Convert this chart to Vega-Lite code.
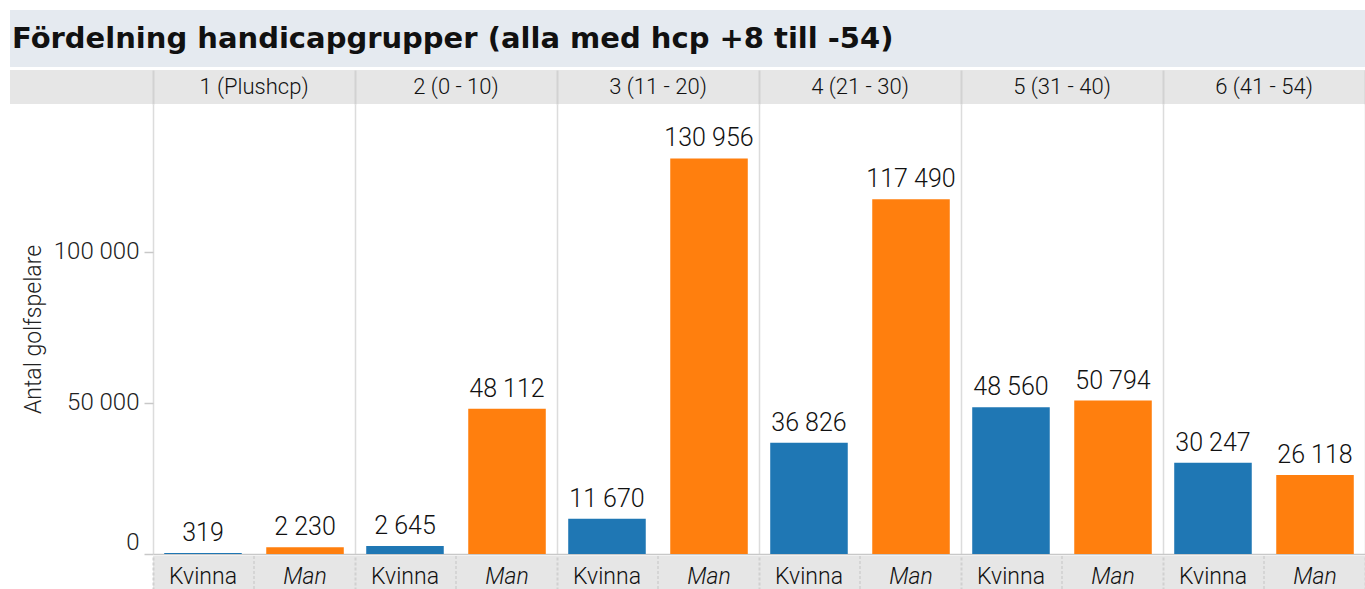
{
  "$schema": "https://vega.github.io/schema/vega-lite/v6.json",
  "padding": {"left": 10, "top": 10, "right": 0, "bottom": 0},
  "background": "white",
  "config": {
    "locale": {"number": {"decimal": ",", "thousands": " ", "grouping": [3], "currency": ["", " kr"]}},
    "font": "Roboto",
    "view": {"stroke": null}
  },
  "datasets": {
    "players": [
      {"group": "1 (Plushcp)", "gender": "Kvinna", "count": 319},
      {"group": "1 (Plushcp)", "gender": "Man", "count": 2230},
      {"group": "2 (0 - 10)", "gender": "Kvinna", "count": 2645},
      {"group": "2 (0 - 10)", "gender": "Man", "count": 48112},
      {"group": "3 (11 - 20)", "gender": "Kvinna", "count": 11670},
      {"group": "3 (11 - 20)", "gender": "Man", "count": 130956},
      {"group": "4 (21 - 30)", "gender": "Kvinna", "count": 36826},
      {"group": "4 (21 - 30)", "gender": "Man", "count": 117490},
      {"group": "5 (31 - 40)", "gender": "Kvinna", "count": 48560},
      {"group": "5 (31 - 40)", "gender": "Man", "count": 50794},
      {"group": "6 (41 - 54)", "gender": "Kvinna", "count": 30247},
      {"group": "6 (41 - 54)", "gender": "Man", "count": 26118}
    ]
  },
  "data": {"name": "players"},
  "spacing": 3,
  "vconcat": [
    {
      "width": 1355,
      "height": 57,
      "view": {"fill": "#e5eaf0", "stroke": null},
      "title": {
        "text": "Fördelning handicapgrupper (alla med hcp +8 till -54)",
        "anchor": "start",
        "frame": "group",
        "orient": "top",
        "offset": -44,
        "dx": 2,
        "fontSize": 29,
        "fontWeight": "bold",
        "font": "DejaVu Sans",
        "color": "#111111"
      },
      "transform": [{"aggregate": [{"op": "count", "as": "n"}]}],
      "mark": {"type": "rect", "color": "#e5eaf0"},
      "encoding": {}
    },
    {
      "spacing": 0,
      "vconcat": [
        {
          "width": 1355,
          "height": 34,
          "view": {"fill": "#e6e6e6", "stroke": null},
          "transform": [{"aggregate": [{"op": "count", "as": "n"}], "groupby": ["group"]}],
          "mark": {"type": "text", "fontSize": 22, "fontWeight": 300, "color": "#111111", "baseline": "middle"},
          "encoding": {
            "x": {
              "field": "group", "type": "nominal",
              "scale": {"type": "band", "range": [143, 1355], "paddingInner": 0, "paddingOuter": 0},
              "axis": {"title": null, "labels": false, "ticks": false, "domain": false, "grid": true, "tickBand": "extent", "gridColor": "#d2d2d2", "gridWidth": 2}
            },
            "text": {"field": "group"}
          }
        },
        {
          "width": 1355,
          "height": 450,
          "encoding": {
            "x": {
              "field": "group", "type": "nominal",
              "scale": {"type": "band", "range": [143, 1355], "paddingInner": 0, "paddingOuter": 0},
              "axis": {"title": null, "labels": false, "ticks": false, "domain": true, "domainColor": "#c8c8c8", "domainWidth": 1.5, "grid": true, "tickBand": "extent", "gridColor": "#dcdcdc", "gridWidth": 1.5}
            },
            "xOffset": {"field": "gender", "type": "nominal", "scale": {"paddingInner": 0.24, "paddingOuter": 0.11}},
            "y": {
              "field": "count", "type": "quantitative",
              "scale": {"domain": [0, 149000]},
              "axis": {
                "title": "Antal golfspelare", "values": [0, 50000, 100000], "format": ",d",
                "offset": -143,
                "labelFontSize": 24, "labelFontWeight": 300, "labelColor": "#222222", "labelFlush": true, "labelPadding": 5,
                "tickSize": 9, "tickColor": "#c8c8c8", "tickWidth": 1.5, "domain": false, "grid": false,
                "titleFontSize": 23, "titleFontWeight": 300, "titleColor": "#222222", "titlePadding": 6,
                "minExtent": 102, "maxExtent": 102
              }
            },
            "color": {"field": "gender", "type": "nominal", "scale": {"domain": ["Kvinna", "Man"], "range": ["#1f77b4", "#ff7f0e"]}, "legend": null}
          },
          "layer": [
            {"mark": {"type": "bar"}},
            {
              "mark": {"type": "text", "fontSize": 25, "fontWeight": 300, "baseline": "alphabetic", "dy": -12},
              "encoding": {"text": {"field": "count", "type": "quantitative", "format": ",d"}, "color": {"value": "#111111"}}
            }
          ]
        },
        {
          "width": 1355,
          "height": 34,
          "encoding": {
            "x": {
              "field": "group", "type": "nominal",
              "scale": {"type": "band", "range": [143, 1355], "paddingInner": 0, "paddingOuter": 0},
              "axis": {"title": null, "labels": false, "ticks": false, "domain": false, "grid": true, "tickBand": "extent", "gridColor": "#d0d0d0", "gridWidth": 2, "gridDash": [3, 2], "zindex": 1}
            }
          },
          "layer": [
            {
              "transform": [{"aggregate": [{"op": "count", "as": "n"}], "groupby": ["group"]}],
              "mark": {"type": "rect", "color": "#e6e6e6"}
            },
            {
              "transform": [{"aggregate": [{"op": "count", "as": "n"}], "groupby": ["group"]}],
              "mark": {"type": "rule", "color": "#d0d0d0", "strokeWidth": 1.5, "strokeDash": [3, 2]}
            },
            {
              "transform": [{"filter": "datum.gender === 'Kvinna'"}],
              "mark": {"type": "text", "fontSize": 23, "fontWeight": 300, "color": "#111111", "baseline": "middle", "dy": 4},
              "encoding": {
                "xOffset": {"field": "gender", "type": "nominal", "scale": {"domain": ["Kvinna", "Man"], "paddingInner": 0.24, "paddingOuter": 0.11}},
                "text": {"field": "gender"}
              }
            },
            {
              "transform": [{"filter": "datum.gender === 'Man'"}],
              "mark": {"type": "text", "fontSize": 23, "fontWeight": 300, "fontStyle": "italic", "color": "#111111", "baseline": "middle", "dy": 4},
              "encoding": {
                "xOffset": {"field": "gender", "type": "nominal", "scale": {"domain": ["Kvinna", "Man"], "paddingInner": 0.24, "paddingOuter": 0.11}},
                "text": {"field": "gender"}
              }
            }
          ]
        }
      ]
    }
  ]
}
